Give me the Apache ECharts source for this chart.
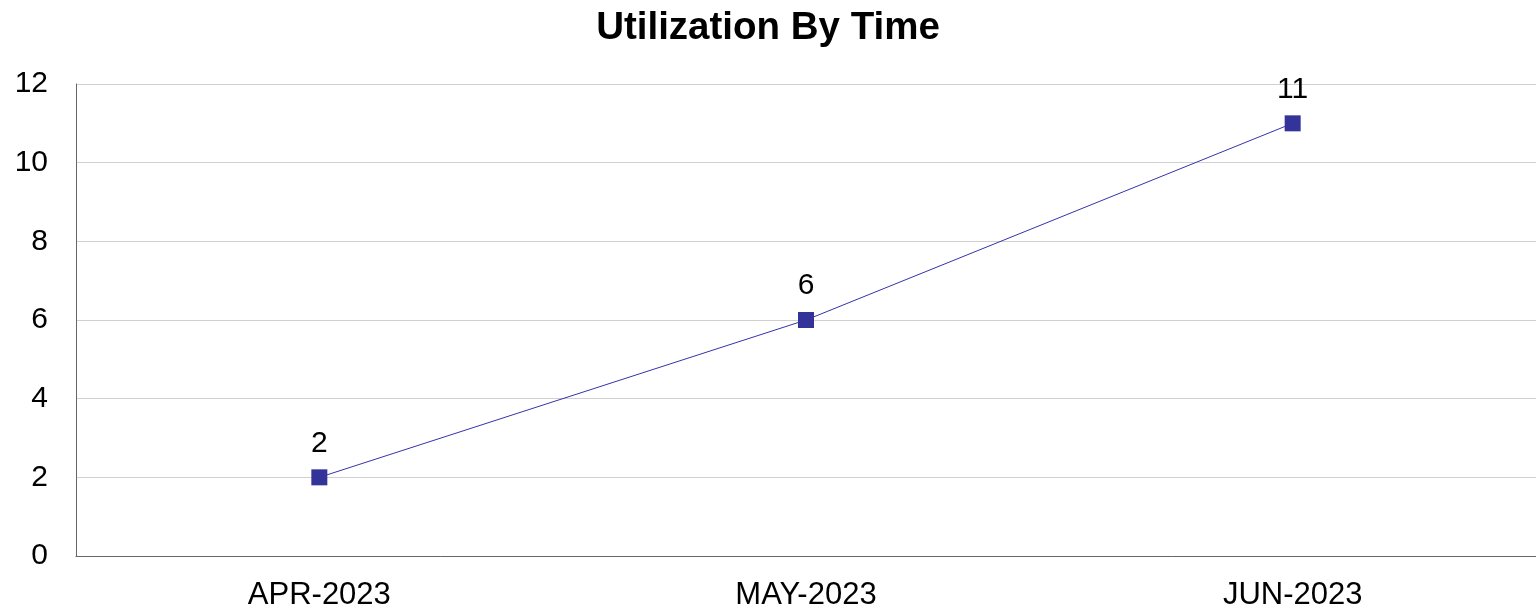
<!DOCTYPE html>
<html>
<head>
<meta charset="utf-8">
<script src="https://cdn.jsdelivr.net/npm/echarts@6/dist/echarts.min.js"></script>
<style>
  html, body { margin: 0; padding: 0; background: #fff; }
  #chart { width: 1536px; height: 611px; }
</style>
</head>
<body>
<div id="chart"></div>
<script>
var months = ['APR-2023', 'MAY-2023', 'JUN-2023'];
var utilization = [2, 6, 11];

var myChart = echarts.init(document.getElementById('chart'));
var font = 'Liberation Sans, Arial, sans-serif';

var option = {
  animation: false,
  title: {
    text: 'Utilization By Time',
    left: 'center',
    top: 4,
    textStyle: { fontFamily: font, fontSize: 38.5, fontWeight: 'bold', color: '#000' }
  },
  grid: { left: 76, right: 0, top: 84, bottom: 53 },
  xAxis: {
    type: 'category',
    data: months,
    boundaryGap: true,
    axisLine: { lineStyle: { color: '#666', width: 1 } },
    axisTick: { show: false },
    axisLabel: { fontFamily: font, fontSize: 31, color: '#000', margin: 24 }
  },
  yAxis: {
    type: 'value',
    min: 0,
    max: 12,
    interval: 2,
    axisLine: { show: true, lineStyle: { color: '#666', width: 1 } },
    axisTick: { show: false },
    splitLine: { lineStyle: { color: '#d0d0d0', width: 1 } },
    axisLabel: { fontFamily: font, fontSize: 30, color: '#000', margin: 28, padding: [6, 0, 0, 0] }
  },
  series: [{
    type: 'line',
    data: utilization,
    symbol: 'rect',
    symbolSize: 16,
    lineStyle: { color: '#3333aa', width: 1 },
    itemStyle: { color: '#333399' },
    label: {
      show: true,
      position: 'top',
      distance: 11,
      fontFamily: font,
      fontSize: 30,
      color: '#000'
    }
  }]
};

myChart.setOption(option);
</script>
</body>
</html>
